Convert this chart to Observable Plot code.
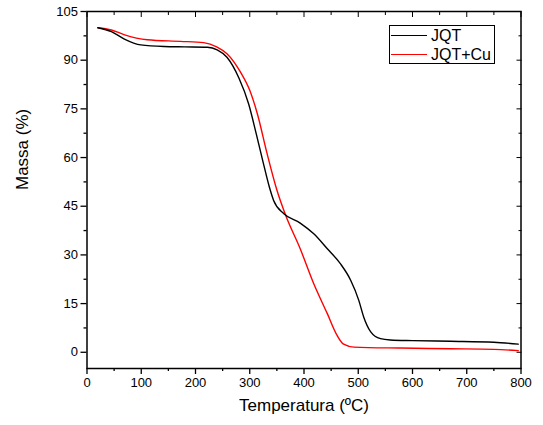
<!DOCTYPE html>
<html>
<head>
<meta charset="utf-8">
<script src="https://cdn.jsdelivr.net/npm/d3@7"></script>
<script src="https://cdn.jsdelivr.net/npm/@observablehq/plot@0.6"></script>
<style>
  html, body { margin: 0; padding: 0; background: #fff; }
  #wrap { position: relative; width: 543px; height: 425px; font-family: "Liberation Sans", Arial, sans-serif; }
  #legend { position: absolute; left: 389px; top: 25px; width: 106px; height: 39px; border: 1px solid #000; box-sizing: border-box; background: #fff; font-size: 16px; }
  .row { position: absolute; left: 1px; height: 19px; display: flex; align-items: center; }
  .sw { width: 36px; height: 0; border-top: 1.3px solid; margin-right: 4px; }
</style>
</head>
<body>
<div id="wrap"></div>
<script>
// JQT (black)
const jqtTemp = [20, 45, 68, 99, 142, 180, 222, 240, 258, 280, 298, 312, 324, 336, 344, 363, 393, 418, 443, 467, 486, 501, 510, 523, 541, 559, 600, 670, 750, 795];
const jqtMass = [100, 98.8, 96.6, 94.7, 94.2, 94.1, 94.0, 93.2, 90.9, 84.5, 76.5, 67.3, 59.0, 51.0, 46.8, 42.7, 39.8, 36.5, 31.9, 27.3, 22.2, 16.0, 10.9, 6.3, 4.2, 3.8, 3.6, 3.4, 3.1, 2.5];
// JQT+Cu (red)
const cuTemp = [20, 45, 68, 111, 172, 215, 240, 258, 283, 300, 314, 332, 350, 366, 393, 418, 443, 461, 473, 492, 578, 670, 750, 795];
const cuMass = [100, 99.3, 97.9, 96.3, 95.8, 95.4, 94.0, 92.0, 86.3, 80.7, 73.5, 61.2, 50.0, 42.3, 31.9, 21.1, 11.9, 5.2, 2.5, 1.6, 1.3, 1.1, 0.9, 0.5];

const seriesNames = ["JQT", "JQT+Cu"];
const seriesColors = ["#000000", "#ff0000"];
const xMajor = d3.range(0, 801, 100);
const xMinor = d3.range(50, 800, 100);
const yMajor = d3.range(0, 106, 15);
const yMinor = d3.range(7.5, 105, 15);

const jqt = jqtTemp.map((t, i) => ({t, m: jqtMass[i], s: seriesNames[0]}));
const cu = cuTemp.map((t, i) => ({t, m: cuMass[i], s: seriesNames[1]}));

const chart = Plot.plot({
  width: 543,
  height: 425,
  marginLeft: 86.5,
  marginRight: 22.5,
  marginTop: 11,
  marginBottom: 57,
  style: {fontFamily: "Liberation Sans, Arial, sans-serif", fontSize: "13px", color: "#000", background: "#fff"},
  x: {domain: [0, 800]},
  y: {domain: [-5, 105]},
  marks: [
    Plot.line(cu, {x: "t", y: "m", stroke: seriesColors[1], strokeWidth: 1.4, curve: "monotone-x"}),
    Plot.line(jqt, {x: "t", y: "m", stroke: seriesColors[0], strokeWidth: 1.4, curve: "monotone-x"}),
    Plot.frame({stroke: "#000", strokeWidth: 1.5}),
    Plot.axisX(xMajor, {anchor: "bottom", tickSize: 6, tickPadding: 3, tickFormat: d => d, fontSize: 13, label: null, strokeWidth: 1.3}),
    Plot.axisX(xMinor, {anchor: "bottom", tickSize: 3, tickFormat: () => "", label: null, strokeWidth: 1.3}),
    Plot.axisX(xMajor, {anchor: "top", tickSize: -5, tickFormat: () => "", label: null, strokeWidth: 1}),
    Plot.axisX(xMinor, {anchor: "top", tickSize: -3, tickFormat: () => "", label: null, strokeWidth: 1}),
    Plot.axisY(yMajor, {anchor: "left", tickSize: 6, tickPadding: 3, tickFormat: d => d, fontSize: 13, label: null, strokeWidth: 1.3}),
    Plot.axisY(yMinor, {anchor: "left", tickSize: 3, tickFormat: () => "", label: null, strokeWidth: 1.3}),
    Plot.axisY(yMajor, {anchor: "right", tickSize: -5, tickFormat: () => "", label: null, strokeWidth: 1}),
    Plot.axisY(yMinor, {anchor: "right", tickSize: -3, tickFormat: () => "", label: null, strokeWidth: 1}),
    Plot.text(["Temperatura (ºC)"], {frameAnchor: "bottom", dy: 42, fontSize: 17, text: d => d}),
    Plot.text(["Massa (%)"], {frameAnchor: "left", dx: -64, rotate: -90, fontSize: 17, text: d => d})
  ]
});

const wrap = document.getElementById("wrap");
wrap.appendChild(chart);
const legend = document.createElement("div");
legend.id = "legend";
seriesNames.forEach((n, i) => {
  const r = document.createElement("div");
  r.className = "row";
  r.style.top = (0 + i * 19) + "px";
  r.innerHTML = `<span class="sw" style="border-color:${seriesColors[i]}"></span><span>${n}</span>`;
  legend.appendChild(r);
});
wrap.appendChild(legend);
</script>
</body>
</html>
